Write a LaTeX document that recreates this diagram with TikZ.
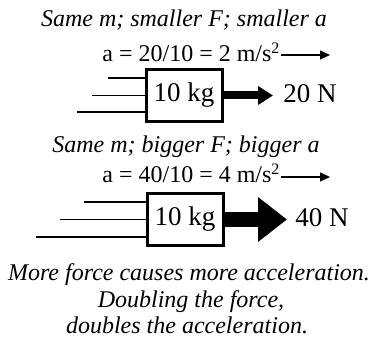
\documentclass[tikz,border=0pt]{standalone}
\usepackage{fontspec}
\setmainfont{Liberation Serif}
\usetikzlibrary{positioning, arrows.meta}

\tikzset{
  mass/.style={draw, line width=1.5pt, minimum width=38pt, minimum height=26pt, inner sep=0pt, font=\fontsize{13.5}{16}\selectfont},
  caption/.style={font=\itshape\fontsize{12}{14}\selectfont, inner sep=0pt, anchor=base},
  eqn/.style={font=\fontsize{12}{14}\selectfont, inner sep=0pt, anchor=base west},
  forcelabel/.style={font=\fontsize{13.5}{16}\selectfont, inner sep=0pt, anchor=base west},
  trail/.style={line width=0.75pt},
  accel/.style={line width=0.6pt, -{Triangle[length=5pt,width=4.5pt]}},
}

\begin{document}
\begin{tikzpicture}[x=0.5pt, y=-0.5pt]
\useasboundingbox (0,0) rectangle (373,346);
% smaller force
\node (top1) [caption] at (184,27) {Same m; smaller F; smaller a};
\node (acc1) [eqn] at (102,62) {a = 20/10 = 2 m/s\textsuperscript{2}};
\coordinate (tip1) at (330,55);
\draw[accel] (acc1.east |- tip1) -- (tip1);
\node (box1) [mass] at (184,95.5) {10 kg};
\draw[trail] ([yshift=8.75pt]box1.west) -- ++(-37,0);
\draw[trail] (box1.west) -- ++(-53,0);
\draw[trail] ([yshift=-8.25pt]box1.west) -- ++(-68,0);
\coordinate (push1) at (273,95.5);
\draw[line width=4pt, -{Triangle[length=7.5pt,width=9pt]}] (box1.east) -- (push1);
\node (f1) [forcelabel] at (283,103) {20 N};
% bigger force
\node (top2) [caption] at (186,153) {Same m; bigger F; bigger a};
\node (acc2) [eqn] at (102,183) {a = 40/10 = 4 m/s\textsuperscript{2}};
\coordinate (tip2) at (330,177);
\draw[accel] (acc2.east |- tip2) -- (tip2);
\node (box2) [mass] at (185,219.5) {10 kg};
\draw[trail] ([yshift=8.75pt]box2.west) -- ++(-62,0);
\draw[trail] (box2.west) -- ++(-86,0);
\draw[trail] ([yshift=-8.75pt]box2.west) -- ++(-110,0);
\coordinate (push2) at (287,219.5);
\draw[line width=7.5pt, -{Triangle[length=14.5pt,width=21.5pt]}] (box2.east) -- (push2);
\node (f2) [forcelabel] at (295,227) {40 N};
% conclusion
\node (note1) [caption] at (189,280) {More force causes more acceleration.};
\node (note2) [caption] at (191,307) {Doubling the force,};
\node (note3) [caption] at (187,333) {doubles the acceleration.};
\end{tikzpicture}
\end{document}
